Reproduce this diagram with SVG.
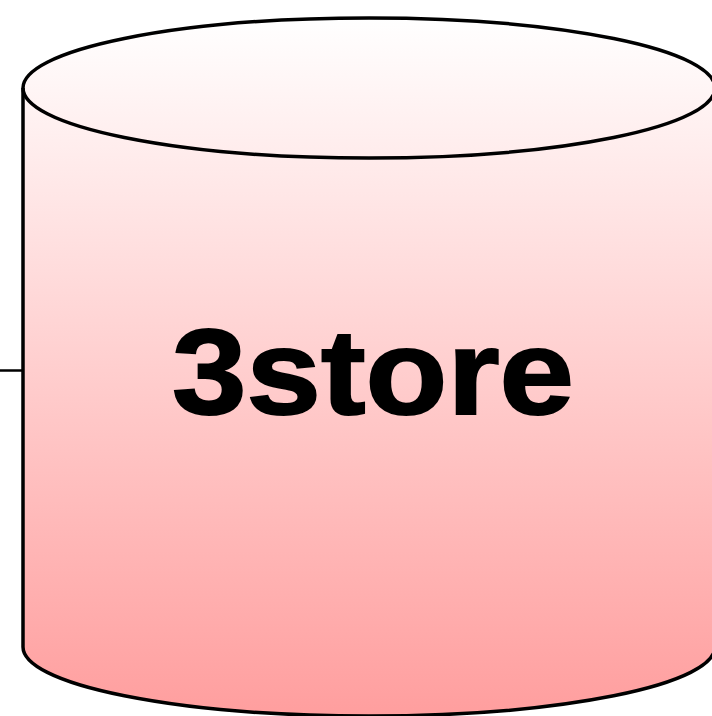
<svg xmlns="http://www.w3.org/2000/svg" width="712" height="716" viewBox="0 0 712 716">
<defs>
<linearGradient id="g" x1="0" y1="18" x2="0" y2="716" gradientUnits="userSpaceOnUse">
<stop offset="0" stop-color="#ffffff"/>
<stop offset="1" stop-color="#ff9e9e"/>
</linearGradient>
</defs>
<style>
.edge{stroke:#000;stroke-width:3.5;fill:none}
.label{font-family:"Liberation Sans",Arial,sans-serif;font-weight:bold;font-size:121px;fill:#000;stroke:#000;stroke-width:2}
</style>
<g id="connectors">
<line x1="0" y1="370.5" x2="23" y2="370.5" stroke="#000" stroke-width="2.5"/>
</g>
<g id="node-3store">
<path d="M23,88 L23,647 A346,69 0 0 0 715,647 L715,88 A346,70 0 0 0 23,88 Z" fill="url(#g)" stroke="#000" stroke-width="3.5"/>
<path class="edge" d="M23,88 A346,70 0 0 0 715,88"/>
<text class="label" x="373" y="414" text-anchor="middle" textLength="402" lengthAdjust="spacingAndGlyphs">3store</text>
</g>
</svg>
